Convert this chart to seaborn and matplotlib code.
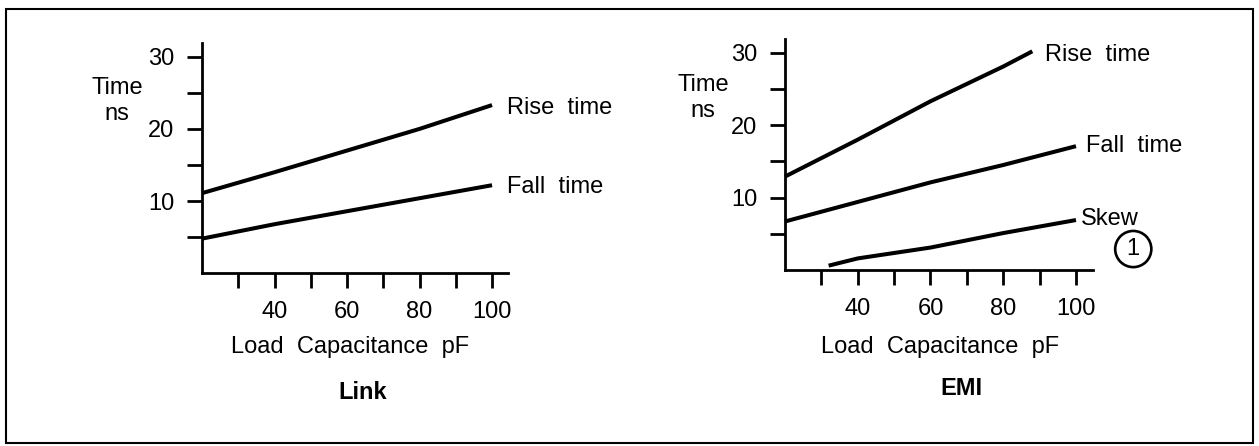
import matplotlib
matplotlib.use("Agg")
import matplotlib.pyplot as plt
from matplotlib.patches import Rectangle
import numpy as np
import pandas as pd
import seaborn as sns

# ---- data -------------------------------------------------------------
link_cap = [20, 40, 60, 80, 100]
link_rise = [11.1, 14.0, 17.0, 20.0, 23.3]
link_fall = [4.8, 6.8, 8.6, 10.4, 12.2]

emi_rise_cap = [20, 40, 60, 80, 88]
emi_rise = [12.9, 18.0, 23.3, 28.1, 30.2]
emi_fall_cap = [20, 40, 60, 80, 100]
emi_fall = [6.7, 9.4, 12.1, 14.5, 17.1]
emi_skew_cap = [32, 40, 60, 80, 100]
emi_skew = [0.6, 1.6, 3.1, 5.1, 6.9]

x_ticks = [30, 40, 50, 60, 70, 80, 90, 100]
x_tick_labels = ["", "40", "", "60", "", "80", "", "100"]
y_ticks = [5, 10, 15, 20, 25, 30]
y_tick_labels = ["", "10", "", "20", "", "30"]

# ---- style ------------------------------------------------------------
sns.set_theme(style="white")
plt.rcParams["font.family"] = ["Liberation Sans", "DejaVu Sans"]
FS = 17

W, H = 1259, 446
fig = plt.figure(figsize=(W / 100, H / 100), dpi=100)


def fx(px):
    return px / W


def fy(py):
    return 1 - py / H


def make_axes(left, right, top, bottom):
    return fig.add_axes([fx(left), fy(bottom), fx(right - left), (bottom - top) / H])


def style_axes(ax, xmax, ymax):
    ax.set_xlim(20, xmax)
    ax.set_ylim(0, ymax)
    for side in ("top", "right"):
        ax.spines[side].set_visible(False)
    for side in ("left", "bottom"):
        ax.spines[side].set_linewidth(2.0)
        ax.spines[side].set_color("black")
    ax.set_xticks(x_ticks)
    ax.set_xticklabels(x_tick_labels)
    ax.set_yticks(y_ticks)
    ax.set_yticklabels(y_tick_labels)
    ax.tick_params(axis="both", direction="out", length=11, width=2.0,
                   color="black", labelsize=FS, pad=9, labelcolor="black")
    ax.tick_params(axis="x", bottom=True)
    ax.tick_params(axis="y", left=True)
    ax.set_facecolor("white")


def draw_series(ax, xs, ys):
    df = pd.DataFrame({"cap": xs, "t": ys})
    sns.lineplot(data=df, x="cap", y="t", ax=ax, color="black",
                 linewidth=2.9, clip_on=False, solid_capstyle="butt")


# ---- Link panel ---------------------------------------------------------
ax1 = make_axes(202, 508, 42.7, 273.3)
draw_series(ax1, link_cap, link_rise)
draw_series(ax1, link_cap, link_fall)
style_axes(ax1, 104.4, 31.94)

# ---- EMI panel ----------------------------------------------------------
ax2 = make_axes(785, 1092.7, 39.3, 270)
draw_series(ax2, emi_rise_cap, emi_rise)
draw_series(ax2, emi_fall_cap, emi_fall)
draw_series(ax2, emi_skew_cap, emi_skew)
style_axes(ax2, 104.6, 31.86)

# axis labels and panel names
for ax, xl_x, time_x, time_y, name, name_x, name_y in (
    (ax1, 350, 117, 101, "Link", 363, 399),
    (ax2, 940, 703, 98, "EMI", 961, 395),
):
    ax.set_xlabel("Load  Capacitance  pF", fontsize=FS, color="black")
    ax.xaxis.label.set_va("baseline")
    ax.xaxis.set_label_coords(fx(xl_x), fy(353), transform=fig.transFigure)
    ax.set_ylabel("Time\nns", fontsize=FS, rotation=0, color="black",
                  ha="center", va="center", multialignment="center")
    ax.yaxis.set_label_coords(fx(time_x), fy(time_y), transform=fig.transFigure)
    fig.text(fx(name_x), fy(name_y), name, fontsize=FS, fontweight="bold",
             ha="center", va="baseline", color="black")

# curve names next to line ends (offsets in points)
def tag(ax, text, x, y, dx, dy, **kw):
    ax.annotate(text, xy=(x, y), xytext=(dx * 0.72, dy * 0.72),
                textcoords="offset points", fontsize=FS, va="center",
                ha="left", color="black", annotation_clip=False, **kw)

tag(ax1, "Rise  time", link_cap[-1], link_rise[-1], 15, -3)
tag(ax1, "Fall  time", link_cap[-1], link_fall[-1], 15, -2)
tag(ax2, "Rise  time", emi_rise_cap[-1], emi_rise[-1], 12.7, -4)
tag(ax2, "Fall  time", emi_fall_cap[-1], emi_fall[-1], 10, 0)
tag(ax2, "Skew", emi_skew_cap[-1], emi_skew[-1], 5, 1)
ax2.annotate("1", xy=(emi_skew_cap[-1], emi_skew[-1]),
             xytext=(57.3 * 0.72, -29 * 0.72), textcoords="offset points",
             fontsize=17, ha="center", va="center", color="black",
             annotation_clip=False,
             bbox=dict(boxstyle="circle,pad=0.3", fc="white", ec="black", lw=1.9))

# surrounding frame
fig.patches.append(Rectangle((fx(6), fy(442.7)), fx(1253 - 6), (442.7 - 9.3) / H,
                             transform=fig.transFigure, fill=False,
                             edgecolor="black", linewidth=1.5))

fig.savefig("out.png", dpi=100, facecolor="white")
